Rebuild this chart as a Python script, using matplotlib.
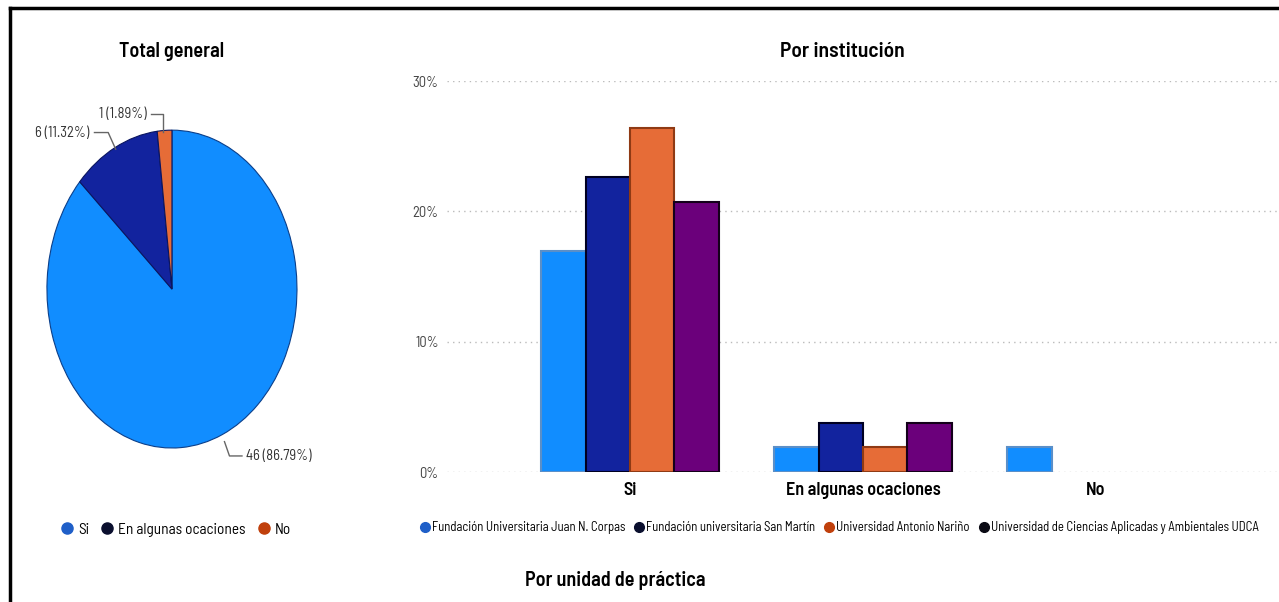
import matplotlib
matplotlib.use("Agg")
import matplotlib.pyplot as plt
from matplotlib.lines import Line2D
import numpy as np

# datos del gráfico circular (total general)
respuestas = ["Si", "En algunas ocaciones", "No"]
conteos = [46, 6, 1]
etiquetas_pie = ["46 (86.79%)", "6 (11.32%)", "1 (1.89%)"]

# datos por institución (% del total de 53)
instituciones = ["Fundación Universitaria Juan N. Corpas",
                 "Fundación universitaria San Martín",
                 "Universidad Antonio Nariño",
                 "Universidad de Ciencias Aplicadas y Ambientales UDCA"]
corpas = [16.98, 1.89, 1.89]
san_martin = [22.64, 3.77, 0.0]
narino = [26.42, 1.89, 0.0]
udca = [20.75, 3.77, 0.0]
ticks_y = [0, 10, 20, 30]

colores = ["#118DFF", "#12239E", "#E66C37", "#6B007B"]
bordes = ["#5b8fc8", "#000022", "#8f3a14", "#14001a"]
colores_leyenda = ["#1f5fc8", "#0a0f2e", "#c0400c", "#0a0a14"]

angosta = ["Barlow Semi Condensed", "DejaVu Sans"]
titulo = ["Barlow Semi Condensed", "DejaVu Sans"]

fig = plt.figure(figsize=(12.79, 6.02), dpi=100)

# marco negro arriba e izquierda
fig.add_artist(Line2D([0.008, 1.0], [0.987, 0.987], color="black", lw=2.5,
                      transform=fig.transFigure))
fig.add_artist(Line2D([0.008, 0.008], [0.0, 0.987], color="black", lw=2.5,
                      transform=fig.transFigure))

# ---- pie ----
ax1 = fig.add_axes([0.0367, 0.2558, 0.1955, 0.528])
cuñas, _ = ax1.pie(conteos, colors=colores[:3], startangle=90, counterclock=False,
                   wedgeprops=dict(edgecolor="#0b3f8a", linewidth=0.8))
for c in cuñas[1:]:
    c.set_edgecolor("#0a1560")
ax1.set_aspect("auto")
ax1.set_xlim(-1, 1)
ax1.set_ylim(-1, 1)

# etiquetas con líneas guía
gris = "#666666"
ax1.plot([0.42, 0.46, 0.56], [-0.96, -1.05, -1.05], color=gris, lw=1, clip_on=False)
ax1.text(0.59, -1.05, etiquetas_pie[0], fontsize=10.5, family=angosta, color="#333333",
         va="center", ha="left")
ax1.plot([-0.62, -0.51, -0.45], [0.985, 0.985, 0.88], color=gris, lw=1, clip_on=False)
ax1.text(-0.66, 0.985, etiquetas_pie[1], fontsize=10.5, family=angosta, color="#333333",
         va="center", ha="right")
ax1.plot([-0.17, -0.07, -0.07], [1.10, 1.10, 0.99], color=gris, lw=1, clip_on=False)
ax1.text(-0.20, 1.10, etiquetas_pie[2], fontsize=10.5, family=angosta, color="#333333",
         va="center", ha="right")

fig.text(0.1345, 0.915, "Total general", fontsize=14.5, fontweight="semibold",
         family=titulo, ha="center", va="center")

h_pie = [Line2D([], [], marker="o", ls="", color=colores_leyenda[i], markersize=8)
         for i in range(3)]
fig.legend(h_pie, respuestas, loc="center", bbox_to_anchor=(0.134, 0.12),
           ncol=3, frameon=False, handletextpad=-0.3, columnspacing=0.2,
           prop={"family": angosta, "size": 11})

# ---- barras ----
ax2 = fig.add_axes([0.3495, 0.2159, 0.6505, 0.6495])
x = np.arange(len(respuestas))
ancho = 0.19
series = [corpas, san_martin, narino, udca]
for i, vals in enumerate(series):
    for j, v in enumerate(vals):
        if v > 0:
            ax2.bar(x[j] + (i - 1.5) * ancho, v, width=ancho, color=colores[i],
                    edgecolor=bordes[i], linewidth=1.5, zorder=3)

ax2.set_xlim(-0.785, 2.785)
ax2.set_ylim(0, 30)
ax2.set_yticks(ticks_y)
ax2.set_yticklabels([f"{t}%" for t in ticks_y], family=angosta, fontsize=10.5,
                    color="#444444")
ax2.set_xticks(x)
ax2.set_xticklabels(respuestas, family=titulo, fontsize=13, fontweight="semibold")
ax2.tick_params(length=0, pad=7)
ax2.tick_params(axis="y", pad=6)
for s in ax2.spines.values():
    s.set_visible(False)
ax2.grid(axis="y", color="#bbbbbb", linestyle=(0, (1, 3)), linewidth=1)
ax2.set_axisbelow(True)

fig.text(0.659, 0.915, "Por institución", fontsize=15.5, fontweight="semibold",
         family=titulo, ha="center", va="center")

h_bar = [Line2D([], [], marker="o", ls="", color=colores_leyenda[i], markersize=7)
         for i in range(4)]
fig.legend(h_bar, instituciones, loc="center left", bbox_to_anchor=(0.318, 0.123),
           ncol=4, frameon=False, handletextpad=-0.45, columnspacing=0.1,
           borderaxespad=0, prop={"family": angosta, "size": 9.2})

fig.text(0.481, 0.036, "Por unidad de práctica", fontsize=14.5, fontweight="semibold",
         family=titulo, ha="center", va="center")

fig.savefig("out.png", dpi=100)
